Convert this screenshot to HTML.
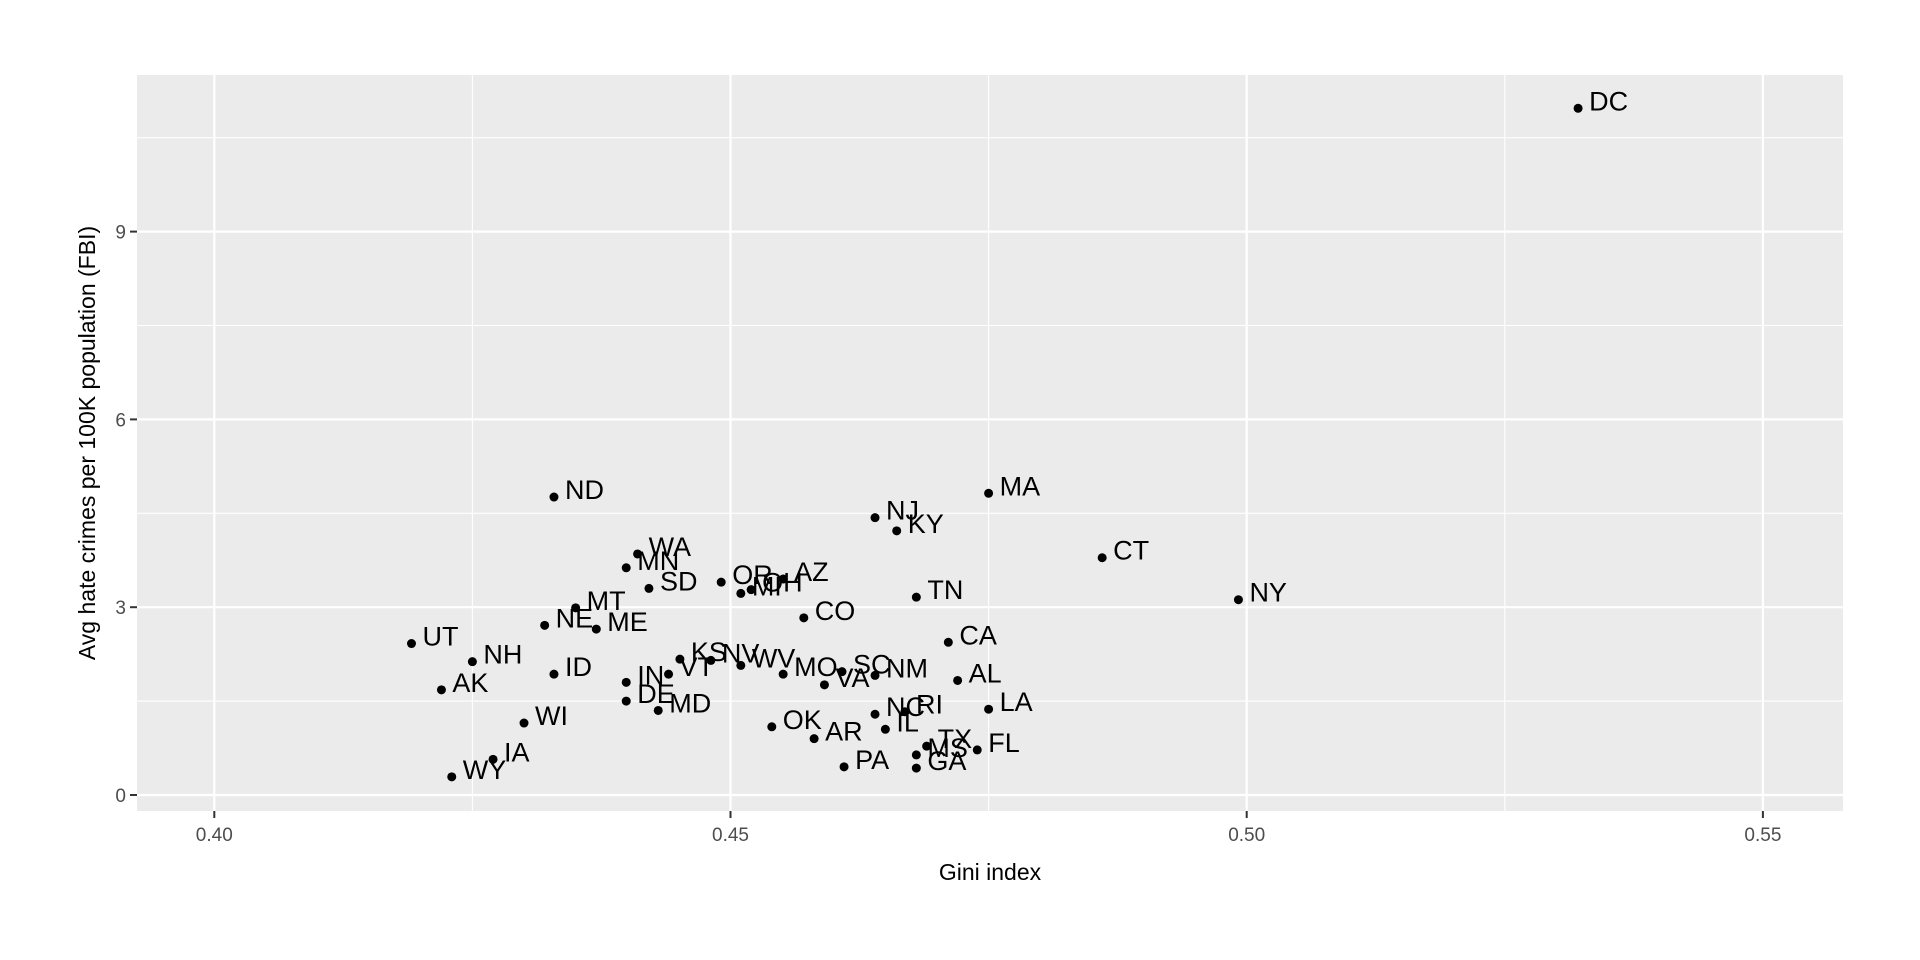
<!DOCTYPE html>
<html><head><meta charset="utf-8"><style>body{margin:0;background:#fff}svg{display:block;font-family:"Liberation Sans",Arial,sans-serif}</style></head>
<body>
<svg id="chart" width="1920" height="960" xmlns="http://www.w3.org/2000/svg"></svg>
<script>
const states=["DC","ND","MA","NJ","KY","CT","NY","WA","MN","SD","OR","MI","OH","AZ","TN","CO","MT","NE","ME","UT","NH","CA","KS","NV","VT","WV","MO","SC","NM","VA","AL","ID","IN","DE","AK","MD","LA","NC","RI","WI","OK","IL","AR","TX","MS","FL","GA","PA","IA","WY"];
const gini=[0.5321,0.4329,0.4750,0.4640,0.4661,0.4860,0.4992,0.4410,0.4399,0.4421,0.4491,0.4510,0.4520,0.4551,0.4680,0.4571,0.4350,0.4320,0.4370,0.4191,0.4250,0.4711,0.4451,0.4481,0.4440,0.4510,0.4551,0.4608,0.4640,0.4591,0.4720,0.4329,0.4399,0.4399,0.4220,0.4430,0.4750,0.4640,0.4669,0.4300,0.4540,0.4650,0.4581,0.4690,0.4680,0.4739,0.4680,0.4610,0.4270,0.4230];
const hate=[10.97,4.76,4.82,4.43,4.22,3.79,3.12,3.85,3.63,3.30,3.40,3.22,3.28,3.45,3.16,2.83,2.99,2.71,2.65,2.42,2.13,2.44,2.17,2.15,1.93,2.07,1.93,1.97,1.91,1.76,1.83,1.93,1.80,1.50,1.68,1.35,1.37,1.29,1.33,1.15,1.09,1.05,0.90,0.78,0.64,0.72,0.43,0.45,0.57,0.29];
const xTicks=[0.40,0.45,0.50,0.55];
const xTickLabels=["0.40","0.45","0.50","0.55"];
const yTicks=[0,3,6,9];
const yTickLabels=["0","3","6","9"];
const svg=document.getElementById('chart');
const NS="http://www.w3.org/2000/svg";
const P={l:137,r:1843,t:75,b:811};
const xs=v=>214.3+(v-0.40)*(516.2/0.05);
const ys=v=>795-v*62.6;
function mk(t,a){const e=document.createElementNS(NS,t);for(const k in a)e.setAttribute(k,a[k]);svg.appendChild(e);return e;}
let r=mk('rect',{x:P.l,y:P.t,width:P.r-P.l,height:P.b-P.t,fill:'#ebebeb'});


for(let v=0.375;v<=0.56;v+=0.05){const x=xs(v);if(x>P.l&&x<P.r){const l=mk('line',{x1:x,x2:x,y1:P.t,y2:P.b,stroke:'#fff','stroke-width':1.1});}}
for(let v=1.5;v<=12;v+=3){const y=ys(v);if(y>P.t&&y<P.b){const l=mk('line',{x1:P.l,x2:P.r,y1:y,y2:y,stroke:'#fff','stroke-width':1.1});}}
xTicks.forEach((v,i)=>{const x=xs(v);
 let g=mk('line',{x1:x,x2:x,y1:P.t,y2:P.b,stroke:'#fff','stroke-width':2.2});
 let t=mk('line',{x1:x,x2:x,y1:P.b,y2:P.b+7,stroke:'#333','stroke-width':2});
 let tx=mk('text',{x:x,y:P.b+30,'text-anchor':'middle','font-size':19,fill:'#4d4d4d'});tx.textContent=xTickLabels[i];});
yTicks.forEach((v,i)=>{const y=ys(v);
 let g=mk('line',{x1:P.l,x2:P.r,y1:y,y2:y,stroke:'#fff','stroke-width':2.2});
 let t=mk('line',{x1:P.l-7,x2:P.l,y1:y,y2:y,stroke:'#333','stroke-width':2});
 let tx=mk('text',{x:P.l-11,y:y+7,'text-anchor':'end','font-size':19,fill:'#4d4d4d'});tx.textContent=yTickLabels[i];});
states.forEach((s,i)=>{const x=xs(gini[i]),y=ys(hate[i]);
 let c=mk('circle',{cx:x,cy:y,r:4.5,fill:'#000'});
 let t=mk('text',{x:x+11,y:y+2,'font-size':27,fill:'#000'});t.textContent=s;});
let xt=mk('text',{x:(P.l+P.r)/2,y:880,'text-anchor':'middle','font-size':23,fill:'#000'});xt.textContent='Gini index';


let yt=mk('text',{x:0,y:0,'text-anchor':'middle','font-size':23,fill:'#000',transform:'translate(95,'+((P.t+P.b)/2)+') rotate(-90)'});yt.textContent='Avg hate crimes per 100K population (FBI)';


</script>
</body></html>
